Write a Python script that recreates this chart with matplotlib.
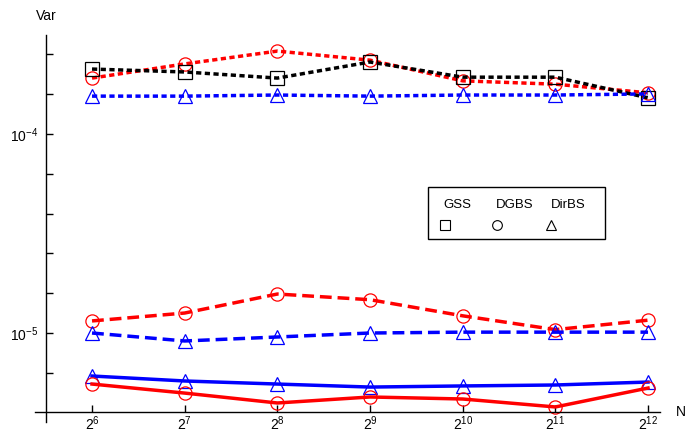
import numpy as np
import matplotlib
matplotlib.use("Agg")
import matplotlib.pyplot as plt
from matplotlib.patches import Rectangle
from matplotlib.lines import Line2D

plt.rcParams['font.family'] = ['Liberation Sans', 'DejaVu Sans']
plt.rcParams['mathtext.fontset'] = 'custom'
plt.rcParams['mathtext.rm'] = 'Liberation Sans'
plt.rcParams['mathtext.it'] = 'Liberation Sans:italic'

# sample sizes N = 2^6 .. 2^12
N = [64, 128, 256, 512, 1024, 2048, 4096]
xlabels = ['$2^{6}$', '$2^{7}$', '$2^{8}$', '$2^{9}$', '$2^{10}$', '$2^{11}$', '$2^{12}$']

# variance estimates, three groups of runs
gss_dot = [2.12e-4, 2.05e-4, 1.91e-4, 2.30e-4, 1.93e-4, 1.93e-4, 1.52e-4]
dgbs_dot = [1.91e-4, 2.25e-4, 2.61e-4, 2.35e-4, 1.85e-4, 1.78e-4, 1.61e-4]
dirbs_dot = [1.55e-4, 1.55e-4, 1.57e-4, 1.55e-4, 1.57e-4, 1.57e-4, 1.59e-4]

dgbs_dash = [1.15e-5, 1.26e-5, 1.57e-5, 1.47e-5, 1.22e-5, 1.04e-5, 1.16e-5]
dirbs_dash = [1.00e-5, 9.12e-6, 9.55e-6, 1.00e-5, 1.01e-5, 1.01e-5, 1.01e-5]

dirbs_solid = [6.08e-6, 5.74e-6, 5.54e-6, 5.35e-6, 5.42e-6, 5.48e-6, 5.67e-6]
dgbs_solid = [5.54e-6, 4.99e-6, 4.45e-6, 4.77e-6, 4.66e-6, 4.25e-6, 5.29e-6]

W, H = 685, 434
fig = plt.figure(figsize=(W / 100, H / 100), dpi=100)
ax = fig.add_axes([0, 0, 1, 1])
ax.patch.set_visible(False)

ax.set_xscale('log', base=2)
ax.set_yscale('log')
ax.set_xlim(2 ** 5.007, 2 ** 12.399)
ax.set_ylim(10 ** -5.5075, 10 ** -3.3266)

lw = 2.5
dot = (0, (1.5, 1.0))
dash = (0, (3.4, 1.7))
mk = dict(markersize=9.5, markerfacecolor='none', markeredgewidth=0.9)

ax.plot(N, dgbs_dot, color='red', lw=lw, ls=dot, marker='o', **mk, clip_on=False)
ax.plot(N, gss_dot, color='black', lw=lw, ls=dot, marker='s', **mk, clip_on=False)
ax.plot(N, dirbs_dot, color='blue', lw=lw, ls=dot, marker='^', **mk, clip_on=False)

ax.plot(N, dgbs_dash, color='red', lw=lw, ls=dash, marker='o', **mk, clip_on=False)
ax.plot(N, dirbs_dash, color='blue', lw=lw, ls=dash, marker='^', **mk, clip_on=False)

ax.plot(N, dirbs_solid, color='blue', lw=lw, ls='-', marker='^', **mk, clip_on=False)
ax.plot(N, dgbs_solid, color='red', lw=lw, ls='-', marker='o', **mk, clip_on=False)

# axis lines crossing like an old-style plot
for s in ['top', 'right']:
    ax.spines[s].set_visible(False)
ax.spines['left'].set_position(('data', 2 ** 5.504))
ax.spines['left'].set_bounds(10 ** -5.447, 10 ** -3.5025)
ax.spines['bottom'].set_position(('data', 10 ** -5.397))
ax.spines['bottom'].set_bounds(2 ** 5.385, 2 ** 12.13)
for s in ['left', 'bottom']:
    ax.spines[s].set_linewidth(1.0)

ax.set_xticks(N)
ax.set_xticklabels(xlabels)
ax.xaxis.set_minor_locator(matplotlib.ticker.NullLocator())
ax.set_yticks([1e-5, 1e-4])
ax.set_yticklabels(['$10^{-5}$', '$10^{-4}$'])
ax.set_yticks([10 ** e for e in [-5.2, -4.8, -4.6, -4.4, -4.2, -3.8, -3.6]], minor=True)
ax.yaxis.set_minor_formatter(matplotlib.ticker.NullFormatter())
ax.tick_params(axis='both', which='both', direction='in', length=5, width=1.0, labelsize=10)
ax.tick_params(axis='y', pad=5.5)
ax.tick_params(axis='x', pad=2)

ax.text(46 / W, 1 - 16 / H, 'Var', transform=ax.transAxes, ha='center', va='center', fontsize=10)
ax.text(681 / W, 1 - 412 / H, 'N', transform=ax.transAxes, ha='center', va='center', fontsize=10)

# legend box
ax.add_patch(Rectangle((428 / W, 1 - 239 / H), (605 - 428) / W, (239 - 187) / H,
                       transform=ax.transAxes, fill=False, edgecolor='black', lw=1.0))
for name, xm, xt, m in [('GSS', 445, 457, 's'), ('DGBS', 497, 515, 'o'), ('DirBS', 551, 568, '^')]:
    ax.text(xt / W, 1 - 205 / H, name, transform=ax.transAxes, ha='center', va='center', fontsize=9.5)
    ax.add_line(Line2D([xm / W], [1 - 225 / H], transform=ax.transAxes, marker=m,
                       markersize=7 if m != 's' else 6.5, markerfacecolor='none',
                       markeredgecolor='black', markeredgewidth=0.8, ls='none'))

fig.savefig('out.png', dpi=100)
